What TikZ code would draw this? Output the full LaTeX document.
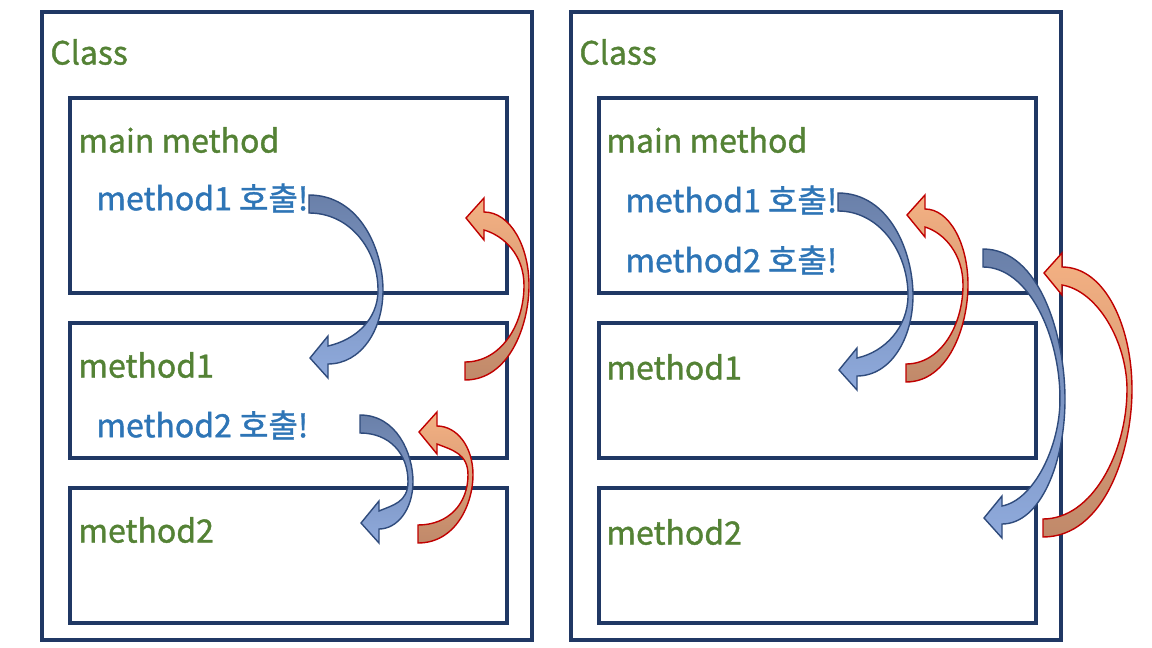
\documentclass[tikz,border=0pt]{standalone}
\usepackage{fontspec}
\setmainfont{Noto Sans CJK KR}[FakeBold=1.2]
\definecolor{boxline}{HTML}{203864}
\definecolor{headgreen}{HTML}{548235}
\definecolor{callblue}{HTML}{2E75B6}
\definecolor{goline}{HTML}{2F4B7C}
\definecolor{gotop}{HTML}{6A80A9}
\definecolor{gobottom}{HTML}{8FAADC}
\definecolor{backline}{HTML}{C00000}
\definecolor{backtop}{HTML}{F4B183}
\definecolor{backbottom}{HTML}{C0896A}

\tikzset{
	frame/.style={draw=boxline, line width=2.2pt},
	title/.style={anchor=west, inner sep=0pt, text=headgreen, font=\fontsize{16}{19}\selectfont},
	call/.style={anchor=west, inner sep=0pt, text=callblue, font=\fontsize{16}{19}\selectfont},
	goarrow/.style={draw=goline, line width=0.7pt, top color=gotop, bottom color=gobottom},
	backarrow/.style={draw=backline, line width=0.7pt, top color=backtop, bottom color=backbottom}
}

% bent arrow: tail at (#2,#3), bulge #4, height #5, style #6
\newcommand{\bentarrow}[6][]{
	\begin{scope}[shift={(#2,#3)}, #1]
	\path[#6] (0,0) .. controls ({0.69*#4},0) and (#4,{0.3*#5}) .. (#4,{0.52*#5})
		.. controls (#4,{0.74*#5}) and ({0.7*#4},{#5-14}) .. (19,{#5-14})
		-- (19,#5) -- (1,{#5-20}) -- (19,{#5-42}) -- (19,{#5-32})
		.. controls ({0.62*#4},{#5-38}) and ({#4-5},{0.683*#5}) .. ({#4-5},{0.52*#5})
		.. controls ({#4-5},{0.3*#5}) and ({0.555*#4},18) .. (0,18) -- cycle;
	\end{scope}
}

\begin{document}
\begin{tikzpicture}[x=0.5pt, y=-0.5pt]
	\useasboundingbox (0,0) rectangle (1152,648);
	
	\foreach \dx in {0,529} {
		\draw[frame] (42+\dx, 12) rectangle (532+\dx, 640);
		\draw[frame] (70+\dx, 98) rectangle (507+\dx, 293);
		\draw[frame] (70+\dx, 323) rectangle (507+\dx, 458);
		\draw[frame] (70+\dx, 488) rectangle (507+\dx, 623);
	}
	
	% left class
	\node[title] (classA) at (50, 52) {Class};
	\node[title] (mainA) at (78, 140) {main method};
	\node[call] (callA1) at (96, 198) {method1 호출!};
	\node[title] (methA1) at (78, 365) {method1};
	\node[call] (callA2) at (96, 425) {method2 호출!};
	\node[title] (methA2) at (78, 530) {method2};
	
	% right class
	\node[title] (classB) at (579, 52) {Class};
	\node[title] (mainB) at (606, 140) {main method};
	\node[call] (callB1) at (625, 200) {method1 호출!};
	\node[call] (callB2) at (625, 260) {method2 호출!};
	\node[title] (methB1) at (606, 367) {method1};
	\node[title] (methB2) at (606, 532) {method2};
	
	% calls and returns
	\bentarrow{309}{195}{74}{183}{goarrow}
	\bentarrow{360}{415}{53}{128}{goarrow}
	\bentarrow[yscale=-1]{465}{380}{64}{182}{backarrow}
	\bentarrow[yscale=-1]{418}{543}{55}{131}{backarrow}
	
	\bentarrow{838}{193}{75}{197}{goarrow}
	\bentarrow[yscale=-1]{906}{382}{62}{187}{backarrow}
	\bentarrow{983}{249}{82}{289}{goarrow}
	\bentarrow[yscale=-1]{1043}{537}{89}{284}{backarrow}
\end{tikzpicture}
\end{document}
